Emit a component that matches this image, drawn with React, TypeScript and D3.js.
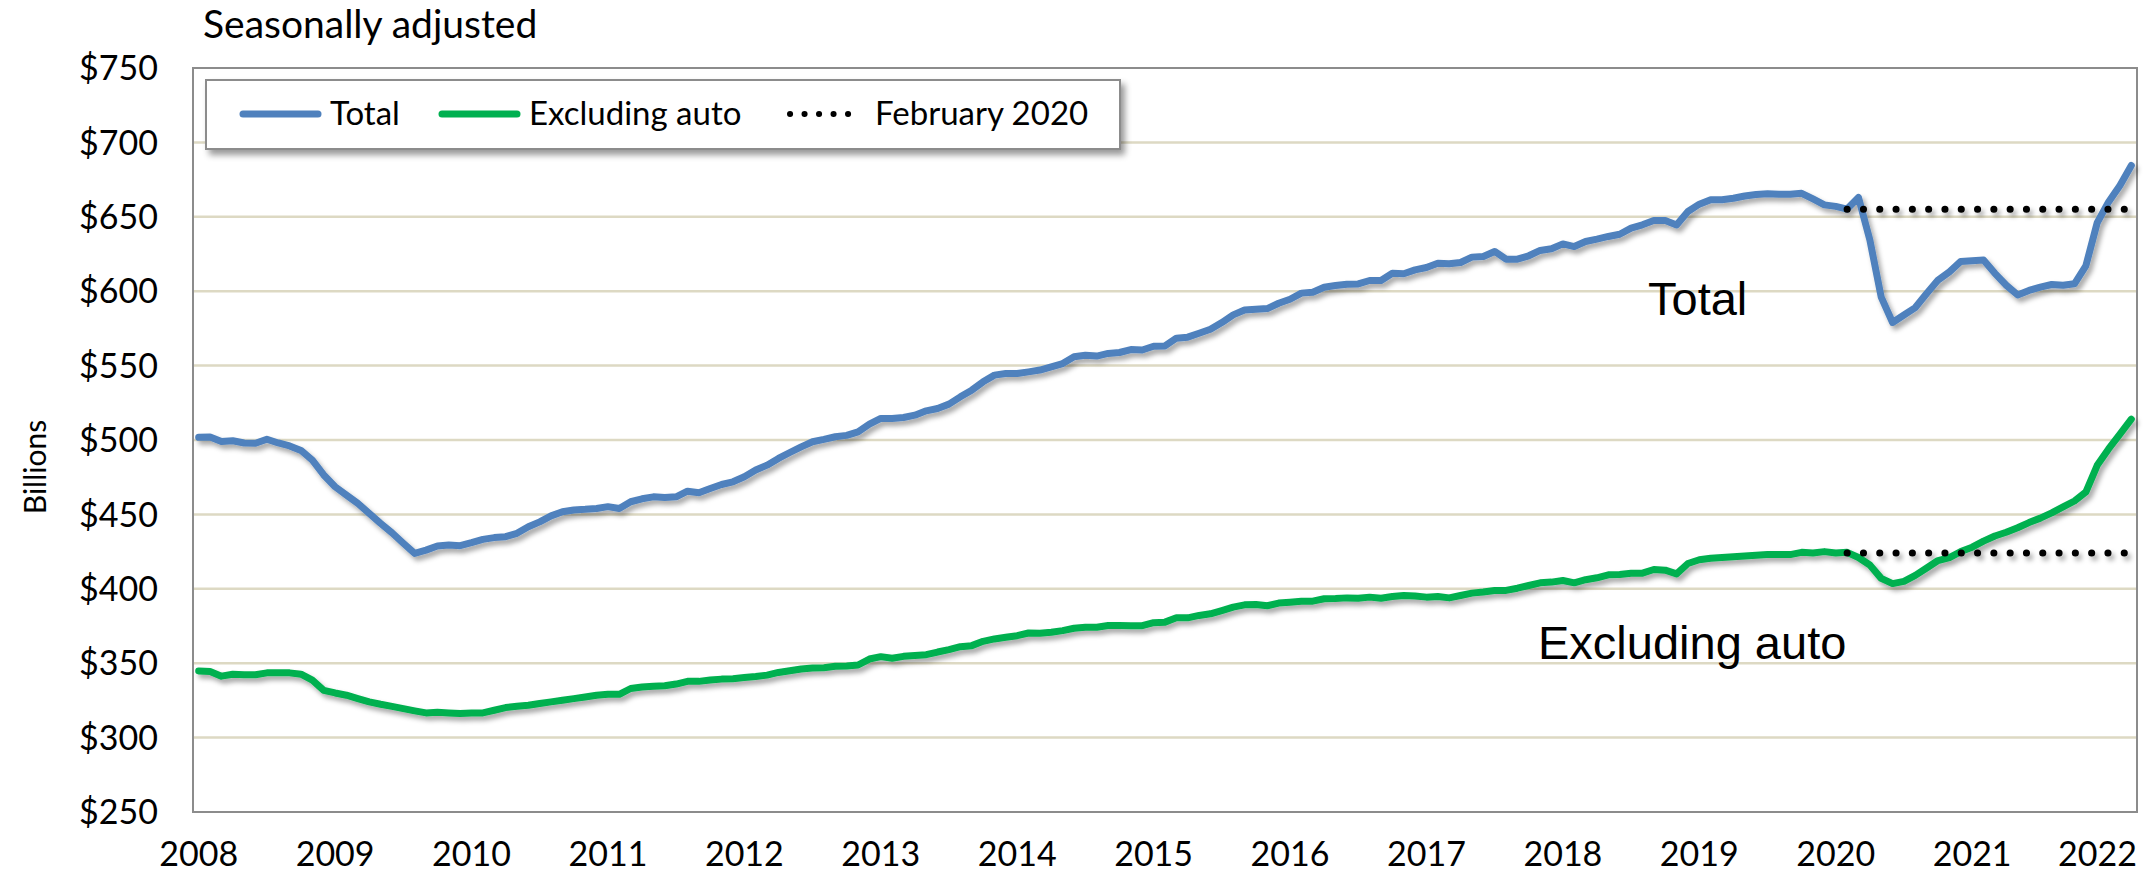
import React from 'react';
import * as d3 from 'd3';

// Retail inventories, billions of dollars, monthly Jan 2008 - Mar 2022
const totalInv = [
  501.8, 502, 499, 499.5, 498, 497.8, 500.5, 498, 496, 493,
  486.5, 476.5, 468.6, 463, 457.4, 450.7, 444, 437.7, 430.6, 423.8,
  426, 428.8, 429.4, 429, 431, 433.2, 434.4, 435, 437.3, 441.7,
  445, 449, 451.8, 453, 453.4, 454, 455.2, 454, 458.5, 460.5,
  461.8, 461.4, 461.8, 465.6, 464.5, 467.4, 470.1, 471.9, 475.3, 479.8,
  483.1, 487.6, 491.6, 495.4, 498.8, 500.4, 502.2, 503.1, 505.5, 510.7,
  514.5, 514.5, 515.1, 516.7, 519.6, 521.2, 524.1, 529, 533.5, 539.1,
  543.6, 544.7, 544.7, 545.8, 547, 549.2, 551.4, 555.9, 557, 556.4,
  558.2, 558.8, 560.8, 560.5, 563, 563.2, 568.4, 569.1, 571.7, 574.4,
  578.9, 584.1, 587.4, 587.9, 588.3, 591.9, 594.6, 598.7, 599.3, 602.7,
  603.8, 604.7, 604.9, 607.2, 607.2, 612.1, 611.7, 614.3, 615.9, 618.8,
  618.4, 619.3, 622.9, 623.3, 626.7, 621.5, 621.5, 623.8, 627.4, 628.5,
  631.8, 630, 633.4, 635, 636.8, 638.3, 642.4, 644.6, 647.5, 647.5,
  644.5, 653.6, 658.5, 661.5, 661.5, 662.5, 664, 665, 665.5, 665.2,
  665.2, 665.8, 662, 658, 657, 655.2, 663, 634.5, 596, 579,
  584, 589, 598.5, 607.5, 613, 620, 620.5, 621, 612, 604,
  597.5, 600.5, 602.7, 604.5, 604, 605, 617, 646, 660, 671,
  684.5,
];

const exAutoInv = [
  344.8, 344.4, 341.3, 342.6, 342.2, 342.2, 343.5, 343.5, 343.5, 342.6,
  338.6, 331.8, 330, 328.5, 326.2, 324, 322.4, 321, 319.5, 318,
  316.6, 317, 316.6, 316.2, 316.6, 316.6, 318.4, 320.2, 321, 321.7,
  322.9, 324, 325.1, 326.2, 327.3, 328.5, 329.1, 329.1, 333, 334,
  334.5, 334.8, 336, 337.8, 337.8, 338.7, 339.3, 339.6, 340.4, 341.1,
  342, 343.8, 344.9, 346.1, 346.7, 347, 347.9, 348.1, 348.8, 352.8,
  354.4, 353.3, 354.6, 355.1, 355.7, 357.5, 359.1, 361.1, 361.8, 364.7,
  366.3, 367.4, 368.5, 370.3, 370.1, 370.8, 371.9, 373.5, 374.2, 374.2,
  375.3, 375.3, 375.1, 375.2, 377.2, 377.6, 380.5, 380.5, 382.1, 383.2,
  385.4, 387.7, 389.2, 389.5, 388.6, 390.4, 391, 391.7, 391.7, 393.3,
  393.5, 393.9, 393.7, 394.4, 393.7, 394.8, 395.5, 395.1, 394.4, 394.8,
  393.9, 395.5, 397.1, 397.8, 398.9, 398.9, 400.4, 402.2, 404, 404.5,
  405.6, 404, 406.1, 407.4, 409.4, 409.6, 410.5, 410.5, 413, 412.5,
  410, 417, 419.5, 420.5, 421, 421.5, 422, 422.5, 423, 423,
  423, 424.5, 424, 425, 424, 424.5, 421, 416, 407, 403.5,
  405, 409, 414, 419, 421, 425, 428, 432, 435.5, 438,
  441, 444.5, 447.5, 451, 455, 459, 465, 483, 494, 504,
  514,
];

// February 2020 reference levels
const feb2020Total = 655;
const feb2020ExAuto = 424;

const yTicks = [250, 300, 350, 400, 450, 500, 550, 600, 650, 700, 750];
const yearLabels = ['2008', '2009', '2010', '2011', '2012', '2013', '2014', '2015',
  '2016', '2017', '2018', '2019', '2020', '2021', '2022'];

const months = d3.timeMonth.range(new Date(2008, 0, 1), new Date(2022, 3, 1));

const W = 2154;
const H = 876;
const plot = { left: 193, right: 2137, top: 68, bottom: 812 };

const BLUE = '#4F81BD';
const GREEN = '#00B050';
const GRID = '#DDD9C3';
const uiFont = 'Lato, "Open Sans", sans-serif';
const noteFont = '"Liberation Sans", Arial, sans-serif';

export default function App() {
  const x = d3.scalePoint<number>()
    .domain(d3.range(months.length))
    .range([plot.left, plot.right])
    .padding(0.5);

  const y = d3.scaleLinear().domain([250, 750]).range([plot.bottom, plot.top]);

  const line = d3.line<number>()
    .x((_, i) => x(i) as number)
    .y((d) => y(d));

  const febIdx = months.findIndex((m) => m.getFullYear() === 2020 && m.getMonth() === 1);
  const lastIdx = months.length - 1;

  const dotted = (v: number) =>
    `M${x(febIdx)},${y(v)}L${x(lastIdx)},${y(v)}`;

  return (
    <svg width={W} height={H} style={{ position: 'absolute', left: 0, top: 0, background: '#fff' }}>
      <defs>
        <filter id="shadow" x="-5%" y="-20%" width="110%" height="140%">
          <feDropShadow dx="3" dy="4" stdDeviation="2.5" floodColor="#000" floodOpacity="0.35" />
        </filter>
        <filter id="boxShadow" x="-5%" y="-20%" width="110%" height="160%">
          <feDropShadow dx="4" dy="5" stdDeviation="3" floodColor="#000" floodOpacity="0.4" />
        </filter>
      </defs>

      {/* title */}
      <text x={203} y={38} fontFamily={uiFont} fontSize={39} fill="#000">Seasonally adjusted</text>

      {/* gridlines */}
      {yTicks.slice(1, -1).map((t) => (
        <line key={t} x1={plot.left} x2={plot.right} y1={y(t)} y2={y(t)} stroke={GRID} strokeWidth={2.5} />
      ))}

      {/* plot frame */}
      <rect x={plot.left} y={plot.top} width={plot.right - plot.left} height={plot.bottom - plot.top}
        fill="none" stroke="#8C8C8C" strokeWidth={2} />

      {/* y labels */}
      {yTicks.map((t) => (
        <text key={t} x={158} y={y(t)} dy="0.36em" textAnchor="end" fontFamily={uiFont} fontSize={34}>
          {'$' + t}
        </text>
      ))}
      <text transform={`translate(46,467) rotate(-90)`} textAnchor="middle" fontFamily={uiFont} fontSize={30}>
        Billions
      </text>

      {/* x labels */}
      {yearLabels.map((lbl, k) => {
        const px = x(k * 12) as number;
        const overflow = px + 36 > plot.right;
        return (
          <text key={lbl} x={overflow ? plot.right : px} y={866}
            textAnchor={overflow ? 'end' : 'middle'} fontFamily={uiFont} fontSize={34}>
            {lbl}
          </text>
        );
      })}

      {/* series */}
      <g filter="url(#shadow)">
        <path d={line(totalInv) ?? ''} fill="none" stroke={BLUE} strokeWidth={7} strokeLinejoin="round" strokeLinecap="round" />
        <path d={line(exAutoInv) ?? ''} fill="none" stroke={GREEN} strokeWidth={7} strokeLinejoin="round" strokeLinecap="round" />
        <path d={dotted(feb2020Total)} fill="none" stroke="#000" strokeWidth={7} strokeDasharray="0.1 16.2" strokeLinecap="round" />
        <path d={dotted(feb2020ExAuto)} fill="none" stroke="#000" strokeWidth={7} strokeDasharray="0.1 16.2" strokeLinecap="round" />
      </g>

      {/* annotations */}
      <text x={1648} y={315} fontFamily={noteFont} fontSize={47}>Total</text>
      <text x={1538} y={659} fontFamily={noteFont} fontSize={47}>Excluding auto</text>

      {/* legend */}
      <rect x={206} y={80} width={914} height={69} fill="#fff" stroke="#8C8C8C" strokeWidth={2} filter="url(#boxShadow)" />
      <g fontFamily={uiFont} fontSize={33}>
        <line x1={243} x2={318} y1={114} y2={114} stroke={BLUE} strokeWidth={7} strokeLinecap="round" />
        <text x={330} y={125}>Total</text>
        <line x1={442} x2={517} y1={114} y2={114} stroke={GREEN} strokeWidth={7} strokeLinecap="round" />
        <text x={529} y={125}>Excluding auto</text>
        <line x1={790} x2={862} y1={114} y2={114} stroke="#000" strokeWidth={6} strokeDasharray="0.1 14.4" strokeLinecap="round" />
        <text x={875} y={125}>February 2020</text>
      </g>
    </svg>
  );
}
